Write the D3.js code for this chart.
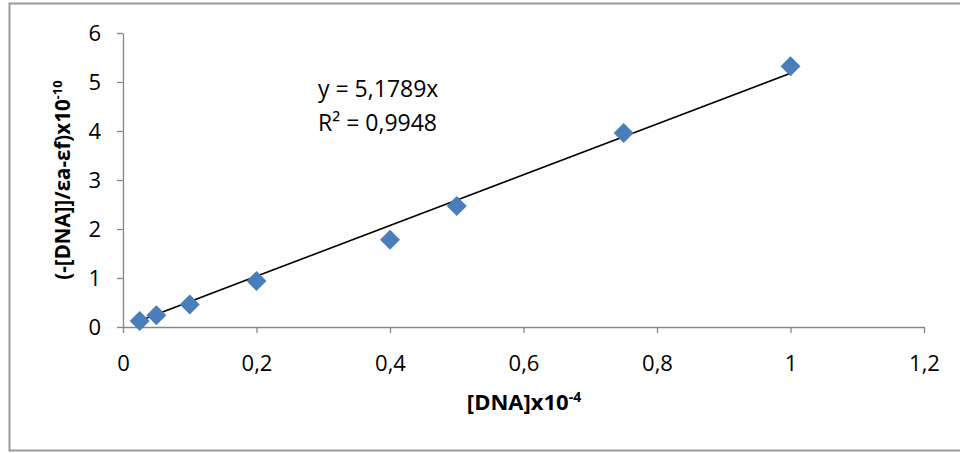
<!DOCTYPE html>
<html>
<head>
<meta charset="utf-8">
<script src="https://cdn.jsdelivr.net/npm/d3@7"></script>
<style>
html,body{margin:0;padding:0;background:#fff;}
svg{display:block;font-family:"Open Sans","Liberation Sans",sans-serif;}
</style>
</head>
<body>
<svg id="chart" width="960" height="453"></svg>
<script>
const xValues = [0.025, 0.05, 0.1, 0.2, 0.4, 0.5, 0.75, 1.0];
const yValues = [0.12, 0.24, 0.46, 0.94, 1.78, 2.47, 3.96, 5.32];
const slope = 5.1789;
const xTicks = [0, 0.2, 0.4, 0.6, 0.8, 1, 1.2];
const yTicks = [0, 1, 2, 3, 4, 5, 6];
const equationText = "y = 5,1789x";
const r2Text = "R² = 0,9948";

const svg = d3.select("#chart");
const fmt = d => String(d).replace(".", ",");

// outer frame
svg.append("path")
  .attr("d", "M970,3.5 H9.5 V450.5 H970")
  .attr("fill", "none").attr("stroke", "#9a9a9a").attr("stroke-width", 2);

const x = d3.scaleLinear().domain([0, 1.2]).range([123, 924]);
const y = d3.scaleLinear().domain([0, 6]).range([327, 33]);

const axisColor = "#868686";

const xAxis = svg.append("g").attr("transform", `translate(0,${y(0)})`)
  .call(d3.axisBottom(x).tickValues(xTicks).tickFormat(fmt).tickSize(6).tickSizeOuter(0));
const yAxis = svg.append("g").attr("transform", `translate(${x(0)},0)`)
  .call(d3.axisLeft(y).tickValues(yTicks).tickFormat(fmt).tickSize(6).tickSizeOuter(0));

[xAxis, yAxis].forEach(g => {
  g.select(".domain").attr("stroke", axisColor).attr("stroke-width", 1.3);
  g.selectAll(".tick line").attr("stroke", axisColor).attr("stroke-width", 1.3);
  g.selectAll(".tick text").attr("fill", "#000").attr("font-size", 22)
    .attr("font-family", "'Open Sans','Liberation Sans',sans-serif");
});
xAxis.selectAll(".tick text").attr("dy", null).attr("y", 44);
yAxis.selectAll(".tick text").attr("x", -22).attr("dy", "0.36em");

// trendline
const xmin = d3.min(xValues), xmax = d3.max(xValues);
svg.append("line")
  .attr("x1", x(xmin)).attr("y1", y(slope * xmin))
  .attr("x2", x(xmax)).attr("y2", y(slope * xmax))
  .attr("stroke", "#000").attr("stroke-width", 1.6);

// markers
const data = xValues.map((v, i) => ({x: v, y: yValues[i]}));
svg.append("g").selectAll("path").data(data).join("path")
  .attr("transform", d => `translate(${x(d.x)},${y(d.y)}) rotate(45)`)
  .attr("d", d3.symbol().type(d3.symbolSquare).size(200))
  .attr("fill", "#4a7ebb");

// equation
svg.append("text").attr("x", 318).attr("y", 97).attr("font-size", 23).text(equationText);
svg.append("text").attr("x", 318).attr("y", 131).attr("font-size", 23).text(r2Text);

// x axis title
const xt = svg.append("text").attr("x", 524).attr("y", 410).attr("text-anchor", "middle")
  .attr("font-size", 22).attr("font-weight", "bold");
xt.append("tspan").text("[DNA]x10");
xt.append("tspan").attr("font-size", 14).attr("dy", -8).text("-4");

// y axis title
const yt = svg.append("text").attr("transform", "translate(70,180) rotate(-90)")
  .attr("text-anchor", "middle").attr("font-size", 20.5).attr("font-weight", "bold");
yt.append("tspan").text("(-[DNA]]/εa-εf)x10");
yt.append("tspan").attr("font-size", 13).attr("dy", -8).text("-10");
</script>
</body>
</html>
